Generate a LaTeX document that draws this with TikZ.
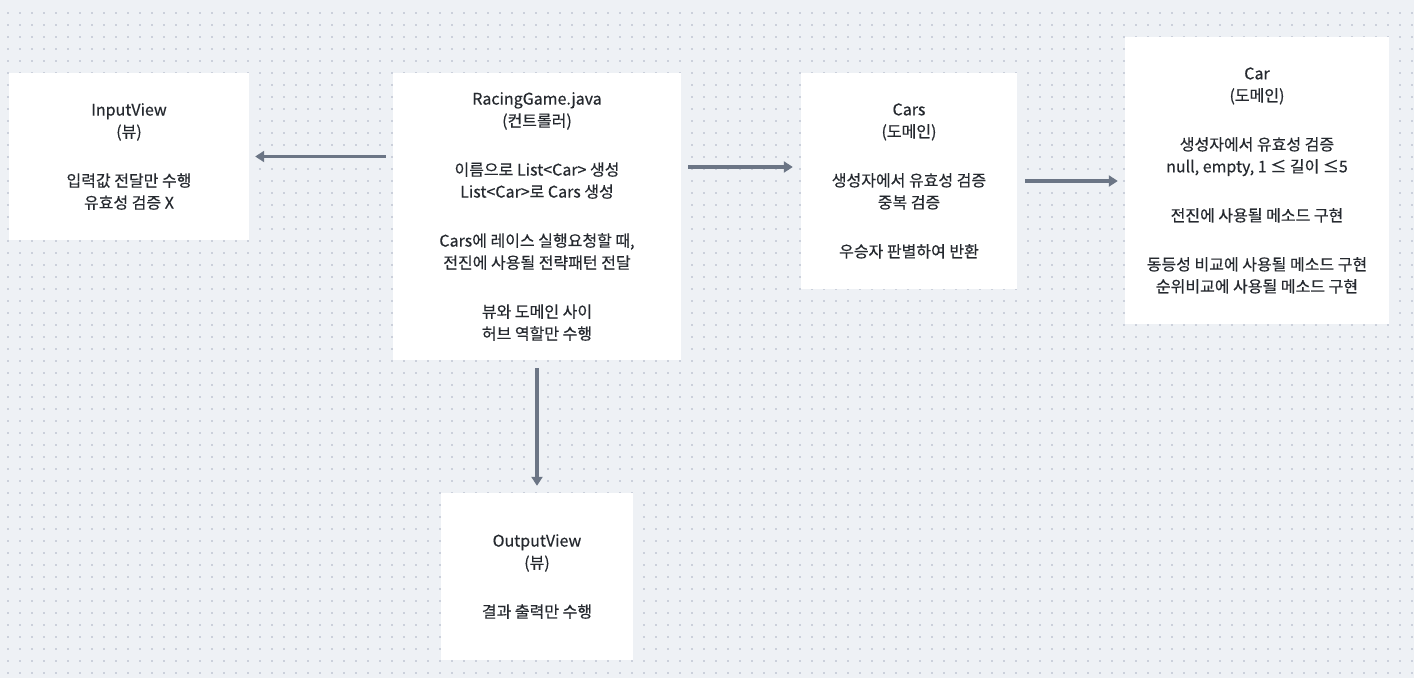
\documentclass[tikz,border=0pt]{standalone}
\usepackage{fontspec}
\setmainfont{Noto Sans CJK KR}[FakeBold=0.4]
\usepackage{tikz}
\usetikzlibrary{arrows.meta,positioning,calc}
\definecolor{bgpaper}{HTML}{EEF1F5}
\definecolor{bgdot}{HTML}{CBD0DB}
\definecolor{arrowgray}{HTML}{6B7585}
\definecolor{inktext}{HTML}{25292F}
\tikzset{
  >=Triangle,
  every node/.append style={font=\fontsize{16}{22}\selectfont, text=inktext},
}
\tikzset{
  card/.style={draw=none, fill=white, align=center, inner sep=0pt},
  arrow/.style={-{Triangle[length=9pt,width=11pt]}, line width=3.5pt, draw=arrowgray}
}

\begin{document}
\begin{tikzpicture}[
  x=1pt, y=-1pt,
  dotrow/.style={draw=bgdot, line width=1.6pt, dash pattern=on 1.6pt off 10.4pt}
]

% Paper with dotted grid
\fill[bgpaper] (0,0) rectangle (1414,678);
\useasboundingbox (0,0) rectangle (1414,678);
\foreach \y in {13,25,...,673}{
  \draw[dotrow] (7.2,\y) -- (1414,\y);
}

% Controller in the middle
\node[card, minimum width=288, minimum height=287] (game) at (537,216.5)
  {RacingGame.java\\(컨트롤러)\\[27pt]
   이름으로 List<Car> 생성\\List<Car>로 Cars 생성\\[27pt]
   Cars에 레이스 실행요청할 때,\\전진에 사용될 전략패턴 전달\\[27pt]
   뷰와 도메인 사이\\허브 역할만 수행};

% Views
\node[card, minimum width=240, minimum height=167] (input) at (129,156.5)
  {InputView\\(뷰)\\[27pt]입력값 전달만 수행\\유효성 검증 X};
\node[card, minimum width=192, minimum height=167] (output) at (537,576.5)
  {OutputView\\(뷰)\\[27pt]결과 출력만 수행};

% Domain
\node[card, minimum width=216, minimum height=216] (cars) at (909,181)
  {Cars\\(도메인)\\[27pt]생성자에서 유효성 검증\\중복 검증\\[27pt]우승자 판별하여 반환};
\node[card, minimum width=264, minimum height=287] (car) at (1257,180.5)
  {Car\\(도메인)\\[27pt]생성자에서 유효성 검증\\null, empty, 1 ≤ 길이 ≤5\\[27pt]
   전진에 사용될 메소드 구현\\[27pt]
   동등성 비교에 사용될 메소드 구현\\순위비교에 사용될 메소드 구현};

% Connectors
\draw[arrow, shorten <=7pt, shorten >=6pt] (game.west |- input.east) -- (input.east);
\draw[arrow, shorten <=7pt, shorten >=8pt] ([yshift=14pt]game.east |- cars.west) -- ([yshift=14pt]cars.west);
\draw[arrow, shorten <=8pt, shorten >=7pt] (cars.east) -- (car.west |- cars.east);
\draw[arrow, shorten <=8pt, shorten >=7pt] (game.south) -- (output.north);

\end{tikzpicture}
\end{document}
